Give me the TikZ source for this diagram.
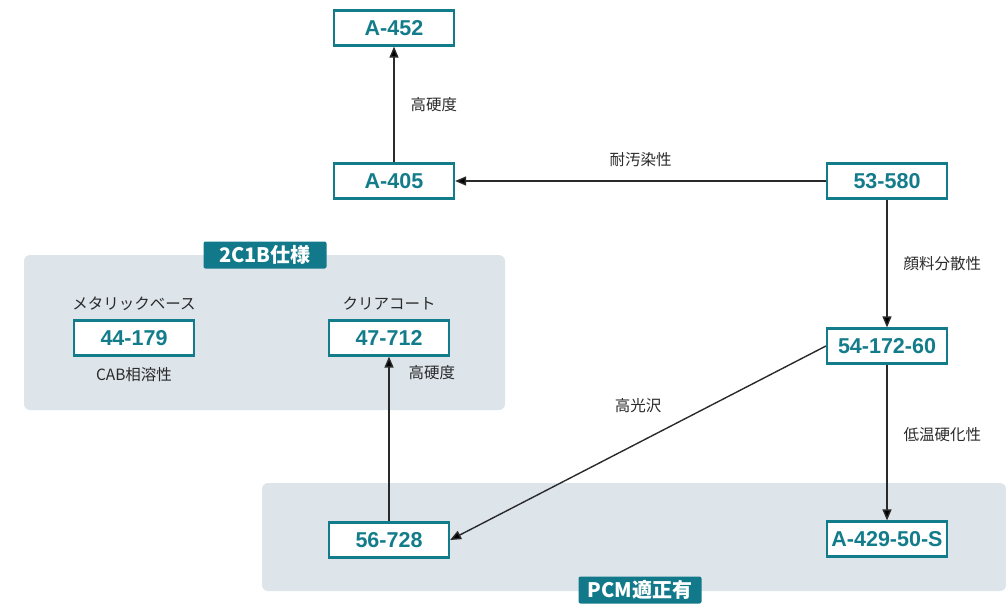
\documentclass[tikz,border=0pt]{standalone}
\usepackage{fontspec}
\setmainfont{Liberation Sans}
\newfontfamily\jp{Noto Sans CJK JP}
\usetikzlibrary{arrows.meta,positioning}

\definecolor{codeteal}{HTML}{137C8A}
\definecolor{tagteal}{HTML}{12798A}
\definecolor{panelgray}{HTML}{DDE4EA}
\definecolor{inkgray}{HTML}{2A2A2A}

\tikzset{
  code/.style={draw=codeteal, line width=2.2pt, fill=white, text=codeteal,
    font=\fontsize{21.5}{24}\selectfont\bfseries,
    minimum width=120pt, minimum height=35pt, inner sep=0pt},
  lbl/.style={font=\jp\fontsize{15.5}{18}\selectfont, text=inkgray, inner sep=0pt},
  tag/.style={fill=tagteal, text=white, rounded corners=2pt,
    font=\jp\bfseries\fontsize{20}{22}\selectfont,
    minimum width=123pt, minimum height=27pt, inner sep=0pt},
  panel/.style={fill=panelgray, rounded corners=6pt},
  link/.style={line width=1.4pt, draw=inkgray},
}

\begin{document}
\begin{tikzpicture}[x=1pt,y=-1pt,>={Triangle[length=11pt,width=9pt]}]
    \useasboundingbox (0,0) rectangle (1006,603);

    % grey areas
    \path[panel] (24,255) rectangle (505,410);
    \path[panel] (262,483) rectangle (1006,591);
    \node[tag] (spec)  at (265,255) {2C1B仕様};
    \node[tag] (pcm)   at (640,590) {PCM適正有};

    % resins
    \node[code] (a452)  at (394,28)  {A-452};
    \node[code] (a405)  at (394,181) {A-405};
    \node[code] (r53)   at (887,181) {53-580};
    \node[code] (r54)   at (887,346) {54-172-60};
    \node[code] (a429)  at (887,539) {A-429-50-S};
    \node[code] (r56)   at (389,540) {56-728};
    \node[code] (r44)   at (134,338) {44-179};
    \node[code] (r47)   at (389,338) {47-712};

    \node[lbl, above=9pt of r44] (base)  {メタリックベース};
    \node[lbl, below=11pt of r44] (cab)   {CAB相溶性};
    \node[lbl, above=9pt of r47] (clear) {クリアコート};

    \path[link] (a405) edge[->] node[lbl, right=16pt] {高硬度}     (a452)
                (r53)  edge[->] node[lbl, above=14pt] {耐汚染性}   (a405)
                (r53)  edge[->] node[lbl, right=16pt] {顔料分散性} (r54)
                (r54)  edge[->] node[lbl, right=16pt, pos=0.45] {低温硬化性} (a429)
                (r54.west) edge[->] node[lbl, above=30pt, pos=0.5] {高光沢} (r56.east)
                (r56)  edge[->] node[lbl, right=19pt, pos=0.9] {高硬度} (r47);
 \end{tikzpicture}
\end{document}
